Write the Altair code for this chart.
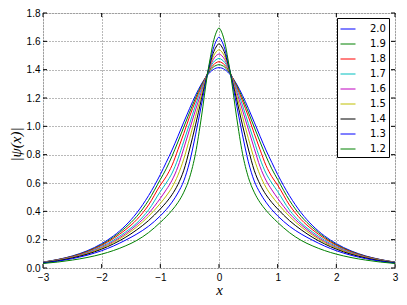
import altair as alt
import pandas as pd

# |x| sample positions (curves are symmetric about x = 0)
x_half = [0.0, 0.05, 0.1, 0.15, 0.2, 0.3, 0.4, 0.5, 0.6, 0.7, 0.8, 0.9, 1.0,
          1.2, 1.4, 1.6, 1.8, 2.0, 2.25, 2.5, 2.75, 3.0]

series = ["2.0", "1.9", "1.8", "1.7", "1.6", "1.5", "1.4", "1.3", "1.2"]

psi_20 = [1.414, 1.411, 1.400, 1.383, 1.360, 1.298, 1.219, 1.127, 1.030, 0.930, 0.833, 0.745, 0.660,
          0.511, 0.390, 0.297, 0.226, 0.172, 0.121, 0.085, 0.060, 0.042]
psi_19 = [1.435, 1.430, 1.417, 1.395, 1.365, 1.290, 1.200, 1.100, 0.995, 0.890, 0.790, 0.700, 0.625,
          0.478, 0.365, 0.283, 0.217, 0.165, 0.117, 0.083, 0.059, 0.041]
psi_18 = [1.456, 1.449, 1.432, 1.405, 1.370, 1.280, 1.180, 1.070, 0.950, 0.835, 0.725, 0.645, 0.585,
          0.445, 0.342, 0.268, 0.208, 0.160, 0.114, 0.081, 0.058, 0.040]
psi_17 = [1.479, 1.470, 1.450, 1.415, 1.370, 1.265, 1.150, 1.020, 0.895, 0.770, 0.670, 0.600, 0.540,
          0.410, 0.318, 0.252, 0.196, 0.152, 0.109, 0.078, 0.056, 0.039]
psi_16 = [1.510, 1.498, 1.470, 1.425, 1.370, 1.245, 1.115, 0.980, 0.845, 0.715, 0.620, 0.552, 0.492,
          0.385, 0.305, 0.240, 0.187, 0.145, 0.105, 0.076, 0.054, 0.038]
psi_15 = [1.540, 1.525, 1.490, 1.435, 1.370, 1.220, 1.070, 0.915, 0.770, 0.655, 0.570, 0.508, 0.456,
          0.365, 0.290, 0.230, 0.180, 0.140, 0.102, 0.074, 0.053, 0.037]
psi_14 = [1.583, 1.560, 1.515, 1.445, 1.365, 1.190, 1.010, 0.840, 0.690, 0.590, 0.518, 0.463, 0.417,
          0.335, 0.270, 0.215, 0.170, 0.133, 0.097, 0.071, 0.051, 0.036]
psi_13 = [1.630, 1.600, 1.545, 1.460, 1.365, 1.150, 0.940, 0.750, 0.615, 0.530, 0.465, 0.412, 0.368,
          0.295, 0.240, 0.195, 0.155, 0.122, 0.090, 0.066, 0.048, 0.034]
psi_12 = [1.694, 1.660, 1.590, 1.480, 1.360, 1.065, 0.810, 0.640, 0.535, 0.462, 0.408, 0.362, 0.322,
          0.250, 0.195, 0.155, 0.123, 0.098, 0.074, 0.056, 0.042, 0.032]

values = [psi_20, psi_19, psi_18, psi_17, psi_16, psi_15, psi_14, psi_13, psi_12]
colors = ["#0000ff", "#008000", "#ff0000", "#00bfbf", "#bf00bf", "#bfbf00", "#000000",
          "#0000ff", "#008000"]

x_ticks = [-3, -2, -1, 0, 1, 2, 3]
y_ticks = [0.0, 0.2, 0.4, 0.6, 0.8, 1.0, 1.2, 1.4, 1.6, 1.8]

rows = []
for name, vals in zip(series, values):
    n = len(x_half)
    for i in range(n - 1, 0, -1):
        rows.append({"x": -x_half[i], "psi": vals[i], "alpha": name})
    for i in range(n):
        rows.append({"x": x_half[i], "psi": vals[i], "alpha": name})
df = pd.DataFrame(rows)

W, H = 352, 255
xs = alt.Scale(domain=[-3, 3], nice=False, zero=False)
ys = alt.Scale(domain=[0, 1.8], nice=False, zero=False)

grid_style = dict(grid=True, gridColor="#000000", gridOpacity=0.55, gridDash=[1, 2],
                  gridWidth=1)

x_axis = alt.Axis(values=x_ticks, format="d", title="x", ticks=False, domain=False,
                  labelPadding=4, labelFlush=False,
                  titleFont="Liberation Serif", titleFontStyle="italic",
                  titleFontWeight="normal", titleFontSize=15,
                  titleY=26, titleBaseline="alphabetic", **grid_style)
y_axis = alt.Axis(values=y_ticks, format=".1f", title="|ψ(x)|", ticks=False,
                  domain=False, labelPadding=3, labelFlush=False,
                  titleFont="Liberation Serif", titleFontStyle="italic",
                  titleFontWeight="normal", titleFontSize=15,
                  titleX=-28, titleY=131, titleBaseline="middle", titleAngle=270,
                  **grid_style)

lines = alt.Chart(df).mark_line(strokeWidth=1, interpolate="monotone", clip=True).encode(
    x=alt.X("x:Q", scale=xs, axis=x_axis),
    y=alt.Y("psi:Q", scale=ys, axis=y_axis),
    color=alt.Color("alpha:N", sort=series,
                    scale=alt.Scale(domain=series, range=colors),
                    legend=alt.Legend(title=None, orient="none", legendX=294, legendY=5,
                                      symbolType="stroke", symbolSize=225, symbolStrokeWidth=1,
                                      labelFontSize=10, labelFont="DejaVu Sans",
                                      labelColor="black",
                                      labelOffset=14, padding=3, rowPadding=2,
                                      strokeColor="black", fillColor="white",
                                      cornerRadius=0)),
    order=alt.Order("x:Q"),
)

xt = pd.DataFrame({"x": x_ticks})
yt = pd.DataFrame({"psi": y_ticks})
tick_bot = alt.Chart(xt).mark_rule(color="black", strokeWidth=1).encode(
    x=alt.X("x:Q", scale=xs, axis=x_axis), y=alt.value(H), y2=alt.value(H - 4))
tick_top = alt.Chart(xt).mark_rule(color="black", strokeWidth=1).encode(
    x=alt.X("x:Q", scale=xs, axis=x_axis), y=alt.value(0), y2=alt.value(4))
tick_left = alt.Chart(yt).mark_rule(color="black", strokeWidth=1).encode(
    y=alt.Y("psi:Q", scale=ys, axis=y_axis), x=alt.value(0), x2=alt.value(4))
tick_right = alt.Chart(yt).mark_rule(color="black", strokeWidth=1).encode(
    y=alt.Y("psi:Q", scale=ys, axis=y_axis), x=alt.value(W), x2=alt.value(W - 4))

chart = alt.layer(lines, tick_bot, tick_top, tick_left, tick_right).properties(
    width=W, height=H,
    autosize=alt.AutoSizeParams(type="none"),
    padding={"left": 35, "top": 5, "right": 4, "bottom": 34},
).configure_view(stroke="black", strokeWidth=1).configure_axis(
    labelFont="DejaVu Sans", labelFontSize=9, labelColor="black", titleColor="black",
).configure(background="white")

chart.save("out.html", embed_options={"renderer": "svg", "actions": False})
